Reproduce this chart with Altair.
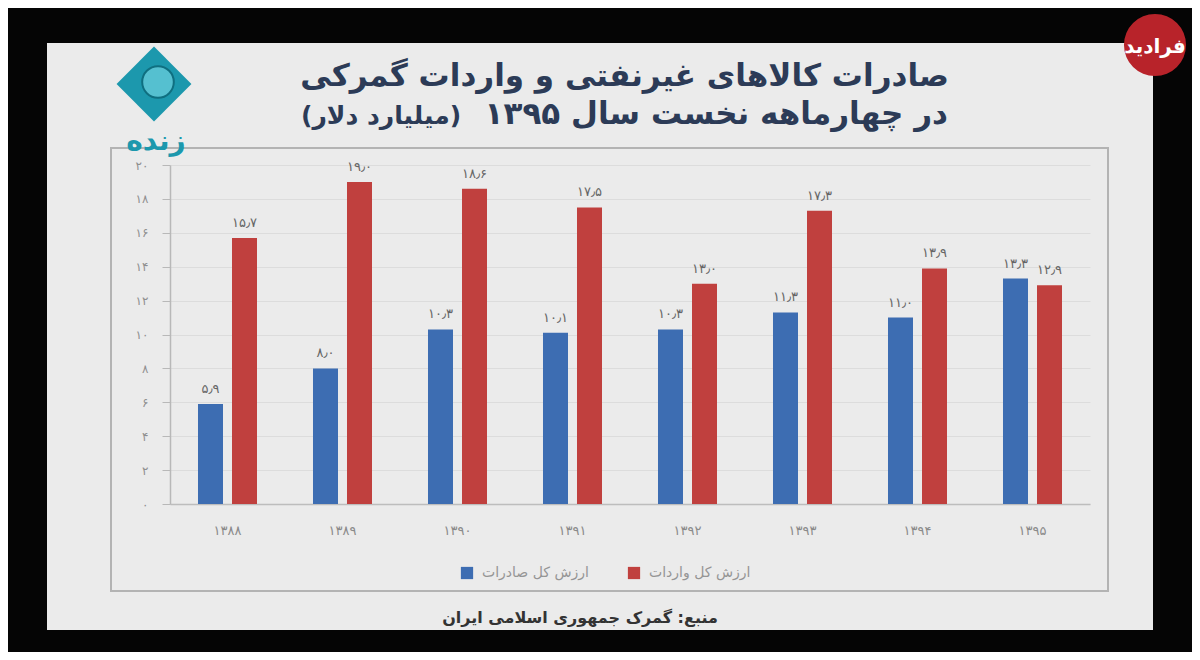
import altair as alt
import pandas as pd

# ---- data ----
years = ['۱۳۸۸', '۱۳۸۹', '۱۳۹۰', '۱۳۹۱', '۱۳۹۲', '۱۳۹۳', '۱۳۹۴', '۱۳۹۵']
exports = [5.9, 8.0, 10.3, 10.1, 10.3, 11.3, 11.0, 13.3]
imports = [15.7, 19.0, 18.6, 17.5, 13.0, 17.3, 13.9, 12.9]
series_names = ['ارزش کل صادرات', 'ارزش کل واردات']
series_colors = ['#3d6db2', '#c0403e']
y_ticks = [0, 2, 4, 6, 8, 10, 12, 14, 16, 18, 20]
y_tick_labels = ['۰', '۲', '۴', '۶', '۸', '۱۰', '۱۲', '۱۴', '۱۶', '۱۸', '۲۰']
title_line1 = 'صادرات کالاهای غیرنفتی و واردات گمرکی'
title_line2 = 'در چهارماهه نخست سال  ۱۳۹۵'
title_unit = '\u200f(میلیارد دلار)\u200f'
source_text = 'منبع: گمرک جمهوری اسلامی ایران'
logo_text = 'زنده'
watermark_text = 'فرادید'

FA = str.maketrans('0123456789.', '۰۱۲۳۴۵۶۷۸۹٫')


def fa(v):
    return f'{v:.1f}'.translate(FA)


rows = []
for i, yr in enumerate(years):
    rows.append({'year': yr, 'series': series_names[0], 'value': exports[i], 'label': fa(exports[i])})
    rows.append({'year': yr, 'series': series_names[1], 'value': imports[i], 'label': fa(imports[i])})
df = pd.DataFrame(rows)

W, H = 920, 339
PAD = {'left': 162, 'top': 157, 'right': 1184 - 162 - W, 'bottom': 644 - 157 - H}
FONT = 'DejaVu Sans'

one = pd.DataFrame({'k': [0]})

label_expr = '[' + ','.join(f"'{t}'" for t in y_tick_labels) + '][round(datum.value/2)]'

x_enc = alt.X('year:N', sort=years, scale=alt.Scale(paddingInner=0, paddingOuter=0),
              axis=alt.Axis(title=None, labelAngle=0, ticks=False, domainColor='#bdbdbd',
                            domainWidth=1.5, labelPadding=20, labelColor='#8a8a8a',
                            labelFontSize=13, labelFont=FONT, grid=False))
xoff_enc = alt.XOffset('series:N', sort=series_names,
                       scale=alt.Scale(paddingInner=0.2647, paddingOuter=0.8235))
y_enc = alt.Y('value:Q', scale=alt.Scale(domain=[0, 20], nice=False),
              axis=alt.Axis(title=None, values=y_ticks, tickCount=11, labelExpr=label_expr,
                            grid=True, labelOverlap=False, gridColor='#dcdcdc', gridWidth=1,
                            domainColor='#b8b8b8', domainWidth=1.5, tickColor='#b8b8b8',
                            tickSize=8, labelPadding=14, labelColor='#8f8f8f',
                            labelFontSize=12, labelFont=FONT))

# ---- frame / decorations ----
def rect(x, x2, y, y2, **kw):
    return alt.Chart(one).mark_rect(**kw).encode(
        x=alt.value(x), x2=alt.value(x2), y=alt.value(y), y2=alt.value(y2))

frame = [
    rect(-162, -123, -157, 487, color='#050505'),
    rect(983, 1022, -157, 487, color='#050505'),
    rect(-162, 1022, -157, -122, color='#050505'),
    rect(-162, 1022, 465, 487, color='#050505'),
]
box = rect(-59, 938, -17, 426, filled=False, stroke='#b3b3b3', strokeWidth=2)

bars = alt.Chart(df).mark_bar().encode(
    x=x_enc, xOffset=xoff_enc, y=y_enc,
    color=alt.Color('series:N', sort=series_names,
                    scale=alt.Scale(domain=series_names, range=series_colors),
                    legend=alt.Legend(title=None, orient='none', legendX=290, legendY=401,
                                      direction='horizontal', symbolType='square',
                                      symbolSize=150, symbolStrokeWidth=0,
                                      labelFontSize=14, labelColor='#959595', labelFont=FONT,
                                      columnPadding=38, symbolOffset=0, labelOffset=8)),
)

labels = alt.Chart(df).mark_text(dy=-15, fontSize=13, color='#666666', font=FONT).encode(
    x=x_enc, xOffset=xoff_enc, y=y_enc, text='label:N')


def txt(s, x, y, **kw):
    return alt.Chart(pd.DataFrame({'t': [s]})).mark_text(font=FONT, **kw).encode(
        x=alt.value(x), y=alt.value(y), text='t:N')


t1 = txt(title_line1, 779, -88, align='right', fontSize=31, fontWeight='bold', color='#2c3b57')
t2 = txt(title_line2, 778, -50, align='right', fontSize=31, fontWeight='bold', color='#2c3b57')
t3 = txt(title_unit, 131, -49, align='left', fontSize=25, fontWeight='bold', color='#2c3b57')
src = txt(source_text, 410, 453, fontSize=16, fontWeight='bold', color='#333333')

logo_d = alt.Chart(one).mark_point(shape='diamond', filled=True, size=5600, color='#1c98ad', opacity=1).encode(
    x=alt.value(-16), y=alt.value(-81))
logo_c = alt.Chart(one).mark_point(shape='circle', filled=True, size=1000, color='#55c0d0',
                                   stroke='#0f6f80', strokeWidth=2, opacity=1).encode(
    x=alt.value(-12), y=alt.value(-83))
logo_t = txt(logo_text, -14, -23, fontSize=28, fontWeight='bold', color='#1c98ad')

wm_c = alt.Chart(one).mark_point(shape='circle', filled=True, size=3850, color='#b8232a', opacity=1).encode(
    x=alt.value(985), y=alt.value(-120))
wm_t = txt(watermark_text, 985, -118, fontSize=20, fontWeight='bold', color='#ffffff')

chart = alt.layer(
    *frame, box, bars, labels, t1, t2, t3, src, logo_d, logo_c, logo_t, wm_c, wm_t
).properties(
    width=W, height=H, padding=PAD, autosize=alt.AutoSizeParams(type='none')
).configure(background='#ebebeb').configure_view(strokeWidth=0)

chart.save('out.html', embed_options={'renderer': 'svg', 'actions': False})
